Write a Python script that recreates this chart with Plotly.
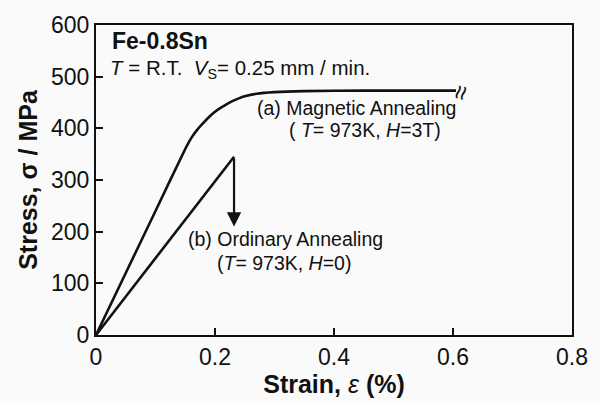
import plotly.graph_objects as go

# Curve (a): Magnetic annealing (T=973K, H=3T)
a_strain = [0, 0.05, 0.10, 0.15, 0.16, 0.17, 0.18, 0.19, 0.20, 0.21, 0.22, 0.23, 0.24, 0.25,
            0.27, 0.30, 0.35, 0.45, 0.605]
a_stress = [0, 120, 240, 360, 381, 397, 410, 422, 432, 440, 447, 453, 458, 462,
            467, 470, 472, 473, 473]

# Curve (b): Ordinary annealing (T=973K, H=0) -> fracture
b_strain = [0, 0.232]
b_stress = [0, 345]
b_fracture_end = 210  # arrow tip stress

x_ticks = [0, 0.2, 0.4, 0.6, 0.8]
x_labels = ["0", "0.2", "0.4", "0.6", "0.8"]
y_ticks = [0, 100, 200, 300, 400, 500, 600]

FONT = "Liberation Sans, Arial, sans-serif"
BG = "#fafafa"
INK = "#111"

fig = go.Figure()
fig.add_trace(go.Scatter(x=a_strain, y=a_stress, mode="lines",
                         line=dict(color=INK, width=2.6, shape="spline", smoothing=0.5),
                         showlegend=False, hoverinfo="skip"))
fig.add_trace(go.Scatter(x=b_strain, y=b_stress, mode="lines",
                         line=dict(color=INK, width=2.6),
                         showlegend=False, hoverinfo="skip"))

def txt(x, y, s, size=20.5):
    return dict(x=x, y=y, xref="x", yref="y", text=s, showarrow=False,
                xanchor="left", yanchor="middle", font=dict(size=size, color=INK, family=FONT))

ann = []
# fracture arrow
ann.append(dict(x=b_strain[-1], y=b_fracture_end, ax=b_strain[-1], ay=b_stress[-1],
                xref="x", yref="y", axref="x", ayref="y", text="", showarrow=True,
                arrowhead=2, arrowsize=1.3, arrowwidth=2.2, arrowcolor=INK, standoff=0))
# break mark at end of curve (a)
ann.append(dict(x=a_strain[-1], y=a_stress[-1], xref="x", yref="y", text="≈",
                showarrow=False, textangle=-75, font=dict(size=26, color=INK, family=FONT),
                xshift=4, yshift=-2))
ann.append(txt(0.023, 570, "<b>Fe-0.8Sn</b>", size=23))
ann.append(txt(0.02, 515, "<i>T</i> = R.T.  <i>V</i><sub>S</sub>= 0.25 mm / min."))
ann.append(txt(0.2667, 440, "(a) Magnetic Annealing", size=19.5))
ann.append(txt(0.321, 396, "( <i>T</i>= 973K, <i>H</i>=3T)", size=19.5))
ann.append(txt(0.152, 185, "(b) Ordinary Annealing", size=19.5))
ann.append(txt(0.200, 139, "(<i>T</i>= 973K, <i>H</i>=0)", size=19.5))

fig.update_layout(
    width=600, height=401,
    margin=dict(l=96, r=21, t=23, b=63),
    paper_bgcolor=BG, plot_bgcolor=BG,
    font=dict(family=FONT, color=INK),
    annotations=ann,
    xaxis=dict(range=[0, 0.8], tickvals=x_ticks, ticktext=x_labels, ticks="inside", ticklen=7,
               tickwidth=1.5, tickcolor=INK, showgrid=False, zeroline=False,
               showline=True, linecolor=INK, linewidth=2.2, mirror=True,
               tickfont=dict(size=23, color=INK, family=FONT),
               title=dict(text="<b>Strain, </b><i>ε</i><b> (%)</b>", standoff=2,
                          font=dict(size=25, color=INK, family=FONT))),
    yaxis=dict(range=[0, 600], tickvals=y_ticks, ticks="inside", ticklen=7,
               tickwidth=1.5, tickcolor=INK, showgrid=False, zeroline=False,
               showline=True, linecolor=INK, linewidth=2.2, mirror=True,
               tickfont=dict(size=23, color=INK, family=FONT),
               title=dict(text="<b>Stress, σ / MPa</b>", standoff=6,
                          font=dict(size=25, color=INK, family=FONT))),
)

fig.write_html("out.html")
